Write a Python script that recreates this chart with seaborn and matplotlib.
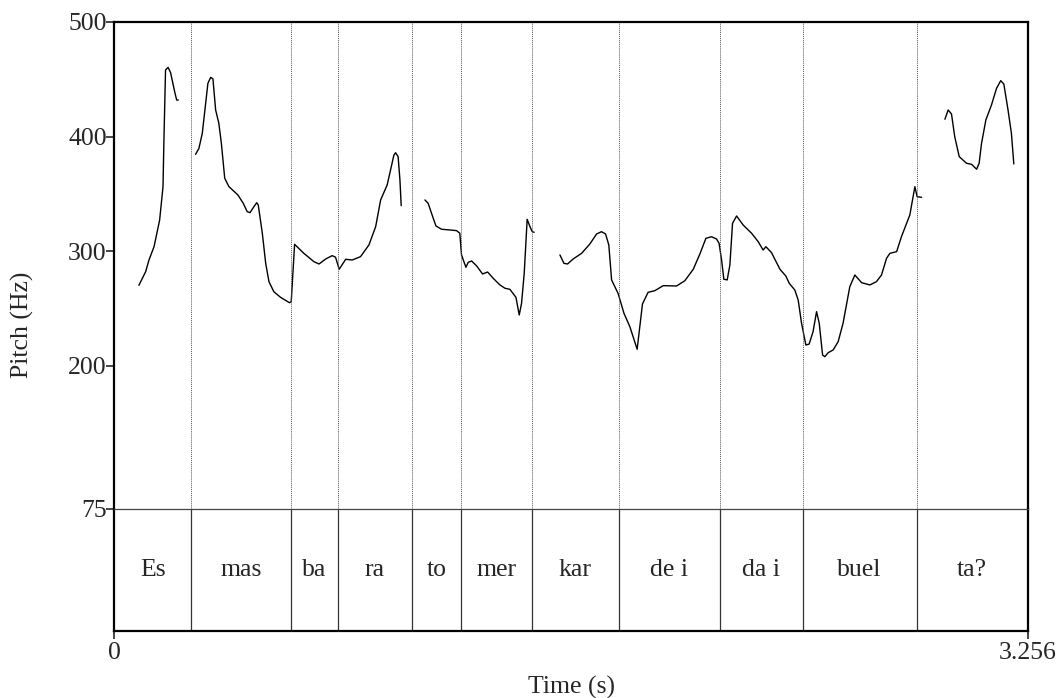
import numpy as np
import pandas as pd
import matplotlib
matplotlib.use("Agg")
import matplotlib.pyplot as plt
import seaborn as sns

# pitch contour, one list per voiced stretch (time in s, F0 in Hz)
seg1_t = [0.087, 0.111, 0.123, 0.141, 0.161, 0.173, 0.176, 0.182, 0.191, 0.200, 0.2145, 0.2217, 0.2275]
seg1_f = [270.2, 282.0, 292.3, 303.9, 327.2, 356.3, 394.1, 458.1, 460.4, 455.8, 439.2, 431.9, 431.9]

seg2_t = [0.289, 0.301, 0.313, 0.325, 0.333, 0.343, 0.351, 0.3606, 0.372, 0.381, 0.393, 0.408,
          0.440, 0.459, 0.473, 0.483, 0.497, 0.507, 0.5125, 0.527, 0.539, 0.5506, 0.568, 0.592,
          0.624, 0.630, 0.642, 0.675, 0.711, 0.729, 0.753, 0.776, 0.788, 0.801, 0.824, 0.8475,
          0.877, 0.907, 0.931, 0.9487, 0.972, 0.984, 0.996, 1.002, 1.011, 1.0175, 1.022]
seg2_f = [384.5, 389.7, 402.9, 429.0, 446.5, 451.7, 450.3, 423.2, 411.6, 394.1, 363.6, 356.3,
          349.0, 341.8, 334.5, 333.6, 338.8, 342.3, 340.3, 315.6, 289.4, 273.4, 264.6, 259.7,
          255.0, 255.9, 306.0, 298.1, 290.8, 288.8, 293.2, 296.1, 294.7, 284.2, 292.9, 292.3,
          295.2, 305.4, 321.4, 344.7, 357.8, 370.8, 383.9, 385.9, 382.5, 362.1, 339.7]

seg3_t = [1.1066, 1.118, 1.130, 1.1458, 1.166, 1.1957, 1.2195, 1.231, 1.237, 1.2527, 1.261,
          1.273, 1.291, 1.312, 1.330, 1.350, 1.374, 1.392, 1.4095, 1.431, 1.4427, 1.451,
          1.4605, 1.471, 1.481, 1.489, 1.496]
seg3_f = [344.7, 341.8, 333.1, 322.0, 319.1, 318.5, 317.9, 315.6, 296.7, 285.9, 290.3,
          291.4, 287.1, 280.1, 281.8, 276.3, 270.5, 267.6, 266.7, 259.7, 244.3, 254.5,
          280.7, 327.8, 321.4, 317.0, 316.5]

seg4_t = [1.5877, 1.602, 1.615, 1.635, 1.665, 1.6946, 1.7185, 1.736, 1.7505, 1.762, 1.772,
          1.795, 1.816, 1.837, 1.863, 1.882, 1.902, 1.926, 1.956, 2.0036, 2.033, 2.063,
          2.0866, 2.108, 2.128, 2.146, 2.155, 2.164, 2.172, 2.184, 2.1935, 2.203, 2.2174,
          2.241, 2.271, 2.2945, 2.312, 2.322, 2.342, 2.372, 2.393, 2.405, 2.425, 2.437,
          2.449, 2.4644, 2.476, 2.490, 2.5025, 2.512, 2.524, 2.532, 2.544, 2.5617, 2.5795,
          2.597, 2.621, 2.639, 2.663, 2.6925, 2.716, 2.734, 2.752, 2.764, 2.788, 2.805,
          2.835, 2.853, 2.861, 2.877]
seg4_f = [296.7, 289.4, 288.8, 293.2, 298.1, 306.3, 315.0, 317.0, 315.0, 305.4, 274.8,
          263.2, 245.8, 234.1, 214.4, 253.9, 264.1, 265.5, 269.9, 269.6, 274.2, 284.2,
          297.5, 311.2, 312.6, 310.6, 306.9, 292.3, 275.5, 274.9, 287.9, 324.3, 330.7,
          322.8, 315.6, 308.3, 301.0, 303.9, 298.7, 284.2, 278.3, 272.0, 266.1, 257.4,
          237.1, 218.1, 218.9, 229.7, 247.2, 237.1, 209.4, 207.9, 211.4, 213.8, 221.0,
          237.1, 269.0, 279.2, 272.5, 270.5, 273.4, 279.2, 293.8, 298.1, 299.6, 312.6,
          331.6, 356.3, 347.5, 347.0]

seg5_t = [2.960, 2.9715, 2.9835, 2.995, 3.011, 3.037, 3.055, 3.073, 3.082, 3.0906, 3.106,
          3.126, 3.144, 3.159, 3.170, 3.185, 3.197, 3.2056]
seg5_f = [415.1, 423.2, 419.7, 399.9, 382.5, 376.7, 375.8, 371.5, 376.7, 394.1, 414.5,
          427.6, 442.1, 448.8, 445.9, 423.2, 402.9, 376.1]

# syllable tier
boundaries = [0.2737, 0.629, 0.7954, 1.062, 1.236, 1.489, 1.797, 2.157, 2.453, 2.859]
syllables = ["Es", "mas", "ba", "ra", "to", "mer", "kar", "de i", "da i", "buel", "ta?"]

t_max = 3.256
f_min, f_max = 75, 500
yticks = [75, 200, 300, 400, 500]

frames = []
for i, (t, f) in enumerate([(seg1_t, seg1_f), (seg2_t, seg2_f), (seg3_t, seg3_f),
                            (seg4_t, seg4_f), (seg5_t, seg5_f)]):
    frames.append(pd.DataFrame({"time": t, "pitch": f, "seg": i}))
df = pd.concat(frames, ignore_index=True)

sns.set_style("white")
plt.rcParams["font.family"] = ["Liberation Serif", "DejaVu Serif"]
fs = 18.5

fig = plt.figure(figsize=(10.58, 6.98), dpi=100)
ax = fig.add_axes([0.1082, 0.2708, 0.8634, 0.6977])
ax2 = fig.add_axes([0.1082, 0.0960, 0.8634, 0.1748])

sns.lineplot(data=df, x="time", y="pitch", units="seg", estimator=None,
             color="black", linewidth=1.0, ax=ax, legend=False)

for b in boundaries:
    ax.axvline(b, color="#555555", linestyle=(0, (1, 1)), linewidth=0.7)
    ax2.axvline(b, color="#333333", linewidth=0.9)

edges = [0] + boundaries + [t_max]
for i, s in enumerate(syllables):
    ax2.text((edges[i] + edges[i + 1]) / 2, 0.5, s, ha="center", va="center", fontsize=fs)

ax.set_xlim(0, t_max)
ax.set_ylim(f_min, f_max)
ax2.set_xlim(0, t_max)
ax2.set_ylim(0, 1)

ax.set_xticks([])
ax.set_yticks(yticks)
ax.set_yticklabels([str(v) for v in yticks], fontsize=fs)
ax.tick_params(axis="y", direction="out", length=5.5, width=1.2, pad=0, left=True)
ax.set_xlabel("")
ax.set_ylabel("")

ax2.set_yticks([])
ax2.set_xticks([0, t_max])
ax2.set_xticklabels(["0", "3.256"], fontsize=fs)
ax2.tick_params(axis="x", direction="out", length=6, width=1.2, pad=2, bottom=True)

for a in (ax, ax2):
    for sp in a.spines.values():
        sp.set_color("black")
        sp.set_linewidth(1.6)
ax.spines["bottom"].set_visible(False)
ax2.spines["top"].set_color("#444444")
ax2.spines["top"].set_linewidth(0.9)

fig.text(0.021, 0.534, "Pitch (Hz)", rotation=90, ha="center", va="center", fontsize=fs)
fig.text(0.54, 0.015, "Time (s)", ha="center", va="center", fontsize=fs)

fig.savefig("out.png", dpi=100, facecolor="white")
